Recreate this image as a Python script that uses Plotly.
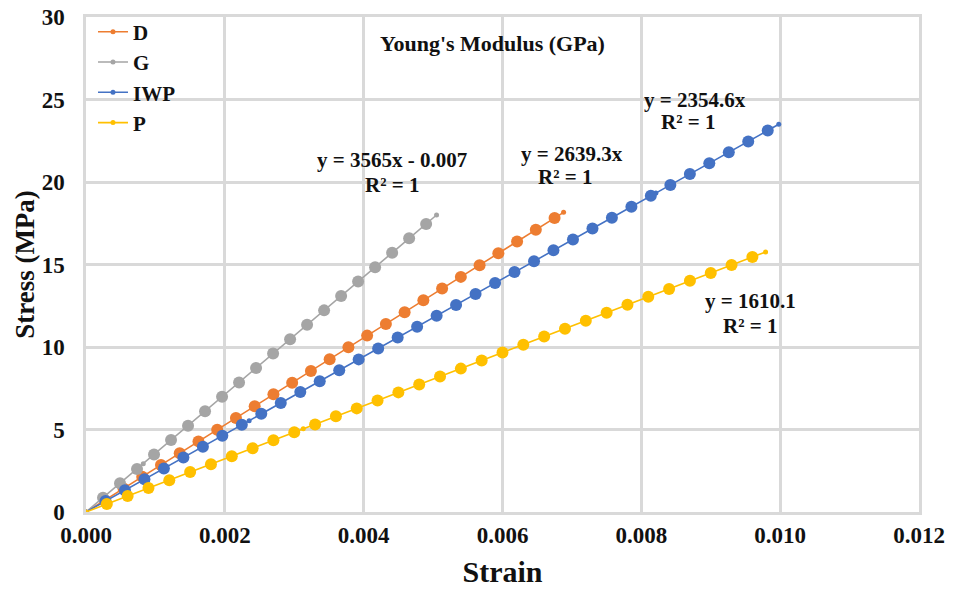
import plotly.graph_objects as go

# Stress-strain data for the four lattice types (strain in mm/mm, stress in MPa)
d_strain = [0.00027, 0.00054, 0.00081, 0.00108, 0.00135, 0.00162, 0.00189, 0.00216, 0.00243,
            0.0027, 0.00297, 0.00324, 0.00351, 0.00378, 0.00405, 0.00432, 0.00459, 0.00486,
            0.00513, 0.0054, 0.00567, 0.00594, 0.00621, 0.00648, 0.00675]
d_stress = [0.71, 1.43, 2.14, 2.85, 3.56, 4.28, 4.99, 5.70, 6.41, 7.13, 7.84, 8.55, 9.26,
            9.98, 10.69, 11.40, 12.11, 12.83, 13.54, 14.25, 14.96, 15.68, 16.39, 17.10, 17.82]

g_strain = [0.000245, 0.00049, 0.000735, 0.00098, 0.001225, 0.00147, 0.001715, 0.00196,
            0.002205, 0.00245, 0.002695, 0.00294, 0.003185, 0.00343, 0.003675, 0.00392,
            0.004165, 0.00441, 0.004655, 0.0049]
g_stress = [0.87, 1.74, 2.61, 3.49, 4.36, 5.23, 6.11, 6.98, 7.85, 8.73, 9.60, 10.47, 11.35,
            12.22, 13.09, 13.97, 14.84, 15.71, 16.59, 17.46]

iwp_strain = [0.000281, 0.000561, 0.000842, 0.001122, 0.001403, 0.001684, 0.001964, 0.002245,
              0.002525, 0.002806, 0.003087, 0.003367, 0.003648, 0.003928, 0.004209, 0.00449,
              0.00477, 0.005051, 0.005331, 0.005612, 0.005893, 0.006173, 0.006454, 0.006734,
              0.007015, 0.007296, 0.007576, 0.007857, 0.008137, 0.008418, 0.008699, 0.008979,
              0.00926, 0.00954, 0.009821]
iwp_stress = [0.66, 1.32, 1.98, 2.64, 3.30, 3.96, 4.62, 5.29, 5.95, 6.61, 7.27, 7.93, 8.59,
              9.25, 9.91, 10.57, 11.23, 11.89, 12.55, 13.21, 13.88, 14.54, 15.20, 15.86, 16.52,
              17.18, 17.84, 18.50, 19.16, 19.82, 20.48, 21.14, 21.80, 22.46, 23.12]

p_strain = [0.0003, 0.0006, 0.0009, 0.0012, 0.0015, 0.0018, 0.0021, 0.0024, 0.0027, 0.003,
            0.0033, 0.0036, 0.0039, 0.0042, 0.0045, 0.0048, 0.0051, 0.0054, 0.0057, 0.006,
            0.0063, 0.0066, 0.0069, 0.0072, 0.0075, 0.0078, 0.0081, 0.0084, 0.0087, 0.009,
            0.0093, 0.0096]
p_stress = [0.48, 0.97, 1.45, 1.93, 2.42, 2.90, 3.38, 3.86, 4.35, 4.83, 5.31, 5.80, 6.28, 6.76,
            7.25, 7.73, 8.21, 8.69, 9.18, 9.66, 10.14, 10.63, 11.11, 11.59, 12.08, 12.56, 13.04,
            13.52, 14.01, 14.49, 14.97, 15.46]

# Additional raw readings (start, in-between and final points) shown as small dots
d_extra_strain = [0.0, 0.00688]
d_extra_stress = [0.0, 18.16]
g_extra_strain = [0.0, 0.000825, 0.00505]
g_extra_stress = [0.0, 2.93, 18.00]
iwp_extra_strain = [0.0, 0.00235, 0.00821, 0.00998]
iwp_extra_stress = [0.0, 5.53, 19.33, 23.50]
p_extra_strain = [0.0, 0.00313, 0.00979]
p_extra_stress = [0.0, 5.04, 15.76]

names = ["D", "G", "IWP", "P"]
colors = ["#ED7D31", "#A5A5A5", "#4472C4", "#FFC000"]
main_x = [d_strain, g_strain, iwp_strain, p_strain]
main_y = [d_stress, g_stress, iwp_stress, p_stress]
extra_x = [d_extra_strain, g_extra_strain, iwp_extra_strain, p_extra_strain]
extra_y = [d_extra_stress, g_extra_stress, iwp_extra_stress, p_extra_stress]

# Fit equations: text, (x, y) of the equation, (x, y) of the R² line
fit_labels = [
    ("y = 3565x - 0.007", 0.00441, 21.32, 0.00441, 19.82),
    ("y = 2639.3x", 0.00700, 21.68, 0.00690, 20.30),
    ("y = 2354.6x", 0.00877, 25.00, 0.00867, 23.61),
    ("y = 1610.1", 0.00957, 12.76, 0.00957, 11.25),
]

FONT = "Liberation Serif, Times New Roman, serif"
INK = "#111111"

fig = go.Figure()

# line with small dots carries the legend entry; large markers on top
for name, col, xs, ys, ex, ey in zip(names, colors, main_x, main_y, extra_x, extra_y):
    pts = sorted(zip(list(xs) + list(ex), list(ys) + list(ey)))
    fig.add_trace(go.Scatter(
        x=[p[0] for p in pts], y=[p[1] for p in pts],
        mode="lines+markers", name=name,
        line=dict(color=col, width=1.6),
        marker=dict(color=col, size=5),
    ))
for name, col, xs, ys in zip(names, colors, main_x, main_y):
    fig.add_trace(go.Scatter(
        x=xs, y=ys, mode="markers", showlegend=False,
        marker=dict(color=col, size=12),
    ))

for eq, ex_, ey_, rx, ry in fit_labels:
    fig.add_annotation(x=ex_, y=ey_, text=f"<b>{eq}</b>", showarrow=False,
                       font=dict(family=FONT, size=21, color=INK))
    fig.add_annotation(x=rx, y=ry, text="<b>R² = 1</b>", showarrow=False,
                       font=dict(family=FONT, size=21, color=INK))

fig.add_annotation(x=0.00586, y=28.38, text="<b>Young's Modulus (GPa)</b>", showarrow=False,
                   font=dict(family=FONT, size=22, color=INK))

grid = "#D9D9D9"
fig.update_xaxes(
    range=[0, 0.012], dtick=0.002, tickformat=".3f", automargin=False,
    showgrid=True, gridcolor=grid, gridwidth=2.5,
    showline=True, linecolor=grid, linewidth=2.5, mirror=True, zeroline=False,
    ticks="outside", ticklen=1, tickcolor="rgba(0,0,0,0)",
    tickfont=dict(family=FONT, size=23, color=INK, weight="bold"),
    title=dict(text="<b>Strain</b>", font=dict(family=FONT, size=30, color=INK), standoff=14),
)
fig.update_yaxes(
    range=[0, 30], dtick=5, automargin=False,
    showgrid=True, gridcolor=grid, gridwidth=2.5,
    showline=True, linecolor=grid, linewidth=2.5, mirror=True, zeroline=False,
    ticks="outside", ticklen=14, tickcolor="rgba(0,0,0,0)",
    tickfont=dict(family=FONT, size=23, color=INK, weight="bold"),
    title=dict(text="<b>Stress (MPa)</b>", font=dict(family=FONT, size=27, color=INK), standoff=0),
)

fig.update_layout(
    width=953, height=590,
    margin=dict(l=86, r=34, t=14, b=78),
    plot_bgcolor="white", paper_bgcolor="white",
    showlegend=True,
    legend=dict(x=0.0084, y=1.011, xanchor="left", yanchor="top",
                bgcolor="rgba(255,255,255,0)", itemwidth=30,
                font=dict(family=FONT, size=21, color=INK, weight="bold"),
                tracegroupgap=0),
)

fig.write_html("out.html")
